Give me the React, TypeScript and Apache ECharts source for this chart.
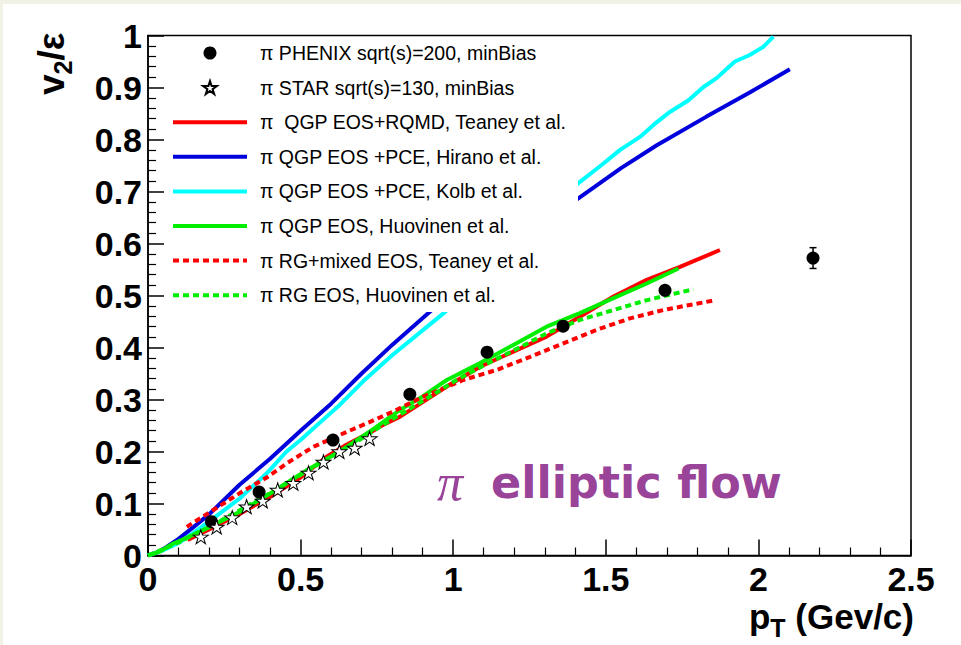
import React, { useEffect, useRef } from "react";
import * as echarts from "echarts";

// ---------- data ----------
const xTicks = [0, 0.5, 1, 1.5, 2, 2.5];
const yTicks = [0, 0.1, 0.2, 0.3, 0.4, 0.5, 0.6, 0.7, 0.8, 0.9, 1];

const phenixX = [0.208, 0.364, 0.606, 0.858, 1.111, 1.36, 1.694, 2.179];
const phenixY = [0.065, 0.122, 0.222, 0.31, 0.391, 0.441, 0.51, 0.572];
const phenixErr = [0, 0, 0, 0, 0, 0, 0, 0.02];

const starX = [0.173, 0.225, 0.276, 0.323, 0.376, 0.425, 0.476, 0.526, 0.575, 0.627, 0.677, 0.726];
const starY = [0.036, 0.055, 0.073, 0.094, 0.105, 0.126, 0.139, 0.159, 0.18, 0.2, 0.207, 0.225];

const redX = [0.13, 0.2, 0.3, 0.4, 0.5, 0.585, 0.65, 0.738, 0.76, 0.826, 0.9, 0.979, 1.088, 1.197, 1.306, 1.415, 1.525, 1.634, 1.743, 1.874];
const redY = [0.03, 0.05, 0.08, 0.113, 0.15, 0.19, 0.213, 0.24, 0.248, 0.267, 0.295, 0.325, 0.363, 0.392, 0.421, 0.459, 0.498, 0.53, 0.555, 0.5875];

const blueX = [0, 0.03, 0.06, 0.1, 0.15, 0.2, 0.3, 0.4, 0.5, 0.6, 0.7, 0.8, 0.93, 1.1, 1.25, 1.41, 1.55, 1.667, 1.83, 1.97, 2.103];
const blueY = [0, 0.006, 0.016, 0.032, 0.055, 0.079, 0.136, 0.186, 0.24, 0.292, 0.35, 0.405, 0.472, 0.55, 0.62, 0.687, 0.745, 0.789, 0.844, 0.89, 0.935];

const cyanX = [0, 0.05, 0.1, 0.15, 0.214, 0.301, 0.389, 0.454, 0.5, 0.564, 0.629, 0.705, 0.8, 0.973, 1.15, 1.3, 1.41, 1.48, 1.547, 1.612, 1.66, 1.71, 1.77, 1.82, 1.863, 1.923, 1.97, 2.016, 2.049];
const cyanY = [0, 0.01, 0.024, 0.044, 0.0715, 0.11, 0.158, 0.2, 0.222, 0.256, 0.29, 0.335, 0.385, 0.468, 0.57, 0.655, 0.716, 0.748, 0.78, 0.805, 0.83, 0.853, 0.875, 0.901, 0.918, 0.95, 0.962, 0.978, 0.998];

const greenX = [0, 0.04, 0.083, 0.13, 0.192, 0.301, 0.411, 0.52, 0.629, 0.738, 0.826, 0.9, 0.979, 1.088, 1.197, 1.306, 1.415, 1.525, 1.634, 1.738];
const greenY = [0, 0.008, 0.023, 0.035, 0.052, 0.084, 0.123, 0.164, 0.2, 0.243, 0.28, 0.306, 0.3375, 0.37, 0.405, 0.44, 0.466, 0.495, 0.523, 0.552];

const redDotX = [0.127, 0.214, 0.301, 0.389, 0.454, 0.542, 0.629, 0.716, 0.804, 0.9, 1.033, 1.143, 1.252, 1.361, 1.47, 1.579, 1.688, 1.858];
const redDotY = [0.055, 0.0875, 0.12, 0.15, 0.177, 0.209, 0.232, 0.254, 0.277, 0.305, 0.3375, 0.357, 0.382, 0.408, 0.434, 0.456, 0.472, 0.491];

const greenDotX = [0, 0.1, 0.2, 0.3, 0.4, 0.5, 0.6, 0.7, 0.8, 0.9, 1.011, 1.121, 1.2, 1.306, 1.415, 1.525, 1.634, 1.787];
const greenDotY = [0, 0.025, 0.055, 0.087, 0.12, 0.155, 0.19, 0.225, 0.262, 0.297, 0.3375, 0.372, 0.395, 0.427, 0.453, 0.472, 0.491, 0.512];

const legendNames = [
  "π PHENIX sqrt(s)=200, minBias",
  "π STAR sqrt(s)=130, minBias",
  "π  QGP EOS+RQMD, Teaney et al.",
  "π QGP EOS +PCE, Hirano et al.",
  "π QGP EOS +PCE, Kolb et al.",
  "π QGP EOS, Huovinen et al.",
  "π RG+mixed EOS, Teaney et al.",
  "π RG EOS, Huovinen et al.",
];

const zip = (xs: number[], ys: number[]) => xs.map((x, i) => [x, ys[i]]);

const STAR =
  "path://M100,0 L122.45,69.1 L195.1,69.1 L136.3,111.8 L158.8,180.9 L100,138.2 L41.2,180.9 L63.7,111.8 L4.9,69.1 L77.55,69.1 Z";

// legend icons: solid bar and dashed bar (74 x 4)
const SOLID_ICON = "path://M0,0 L74,0 L74,4 L0,4 Z";
const DASH_ICON =
  "path://" +
  [0, 10, 20, 30, 40, 50, 60, 70]
    .map((s) => {
      const e = Math.min(s + 6, 74);
      return `M${s},0 L${e},0 L${e},4 L${s},4 Z`;
    })
    .join(" ");

const FONT = "Liberation Sans";

function lineSeries(name: string, xs: number[], ys: number[], color: string, dotted = false) {
  return {
    name,
    type: "line",
    data: zip(xs, ys),
    symbol: "none",
    showSymbol: false,
    smooth: false,
    z: 2,
    lineStyle: { color, width: 4, type: dotted ? [6, 4] : "solid" },
    itemStyle: { color },
  };
}

let measureCtx: CanvasRenderingContext2D | null = null;
function textWidth(text: string, size: number) {
  if (!measureCtx) measureCtx = document.createElement("canvas").getContext("2d");
  measureCtx!.font = `bold ${size}px "${FONT}"`;
  return measureCtx!.measureText(text).width;
}

// text placed with its baseline at local y = baseline (Arial-like metrics, central baseline)
function boldText(text: string, size: number, x: number, baseline: number, align = "left") {
  return {
    type: "text",
    x,
    y: baseline - 0.3465 * size,
    style: { text, fontFamily: FONT, fontWeight: "bold", fontSize: size, fill: "#000", align, verticalAlign: "middle" },
  };
}

export default function App() {
  const ref = useRef<HTMLDivElement>(null);
  useEffect(() => {
    const chart = echarts.init(ref.current!, undefined, { renderer: "svg" });
    const axisCommon = {
      type: "value",
      axisLine: { show: true, onZero: false, lineStyle: { color: "#000", width: 1.5 } },
      axisTick: { show: true, inside: true, length: 16, lineStyle: { color: "#000", width: 1.5 } },
      minorTick: { show: true, splitNumber: 5, length: 8, lineStyle: { color: "#000", width: 1.2 } },
      splitLine: { show: false },
      minorSplitLine: { show: false },
    };

    // x-axis title: "p_T (Gev/c)" right-aligned
    const xMain = 35, xSub = 25, xRight = 911, xBase = 625;
    const wRest = textWidth(" (Gev/c)", xMain);
    const wT = textWidth("T", xSub);
    const xTitle = {
      type: "group",
      z: 5,
      children: [
        boldText(" (Gev/c)", xMain, xRight, xBase, "right"),
        boldText("T", xSub, xRight - wRest, xBase + 8, "right"),
        boldText("p", xMain, xRight - wRest - wT, xBase, "right"),
      ],
    };

    // y-axis title: "v_2/ε" rotated, reading bottom to top
    const yMain = 37, ySub = 25;
    const wv = textWidth("v", yMain);
    const w2 = textWidth("2", ySub);
    const yTitle = {
      type: "group",
      z: 5,
      x: 61,
      y: 91,
      rotation: Math.PI / 2,
      children: [
        boldText("v", yMain, 0, 0),
        boldText("2", ySub, wv, 8),
        boldText("/ε", yMain, wv + w2, 0),
      ],
    };

    const option: any = {
      animation: false,
      backgroundColor: "transparent",
      grid: { left: 145, right: 50, top: 31.5, bottom: 89.5, show: true, borderColor: "#000", borderWidth: 1.5 },
      xAxis: {
        ...axisCommon,
        min: xTicks[0],
        max: xTicks[xTicks.length - 1],
        interval: 0.5,
        axisLabel: {
          fontSize: 34, fontWeight: "bold", color: "#000", fontFamily: FONT, margin: 6,
          formatter: (v: number) => String(v),
        },
      },
      yAxis: {
        ...axisCommon,
        min: yTicks[0],
        max: yTicks[yTicks.length - 1],
        interval: 0.1,
        axisLabel: {
          fontSize: 34, fontWeight: "bold", color: "#000", fontFamily: FONT, margin: 6,
          formatter: (v: number) => String(Math.round(v * 10) / 10),
        },
      },
      legend: {
        data: legendNames.map((n, i) =>
          i < 2 ? { name: n } : { name: n, icon: i >= 6 ? DASH_ICON : SOLID_ICON }
        ),
        orient: "vertical",
        left: 170,
        top: 39,
        padding: 0,
        itemWidth: 74,
        itemHeight: 13,
        itemGap: 14.6,
        selectedMode: false,
        textStyle: { fontFamily: FONT, fontSize: 19.5, color: "#000", lineHeight: 20, padding: [0, 0, 0, 8] },
      },
      graphic: [
        { type: "rect", z: 3, shape: { x: 162, y: 33, width: 413, height: 275 }, style: { fill: "#fff" } },
        {
          type: "text", z: 5, x: 434, y: 478,
          style: { text: "π", fontFamily: "Liberation Serif", fontStyle: "italic", fontSize: 52, fill: "#994499", verticalAlign: "middle", align: "left" },
        },
        {
          type: "text", z: 5, x: 488, y: 478,
          style: { text: "elliptic flow", fontFamily: "DejaVu Sans", fontWeight: "bold", fontSize: 44.5, fill: "#994499", verticalAlign: "middle", align: "left" },
        },
        xTitle,
        yTitle,
      ],
      series: [
        lineSeries(legendNames[2], redX, redY, "#ff0000"),
        lineSeries(legendNames[3], blueX, blueY, "#0000dd"),
        lineSeries(legendNames[4], cyanX, cyanY, "#00ffff"),
        lineSeries(legendNames[5], greenX, greenY, "#00ee00"),
        lineSeries(legendNames[6], redDotX, redDotY, "#ff0000", true),
        lineSeries(legendNames[7], greenDotX, greenDotY, "#00ee00", true),
        {
          name: "errors",
          type: "custom",
          z: 5,
          data: phenixX.map((x, i) => [x, phenixY[i], phenixErr[i]]),
          renderItem: (params: any, api: any) => {
            const x = api.value(0), y = api.value(1), e = api.value(2);
            if (!e) return null;
            const t = api.coord([x, y + e]);
            const b = api.coord([x, y - e]);
            const st = { stroke: "#000", lineWidth: 1.5 };
            return {
              type: "group",
              children: [
                { type: "line", shape: { x1: t[0], y1: t[1], x2: b[0], y2: b[1] }, style: st },
                { type: "line", shape: { x1: t[0] - 3.5, y1: t[1], x2: t[0] + 3.5, y2: t[1] }, style: st },
                { type: "line", shape: { x1: b[0] - 3.5, y1: b[1], x2: b[0] + 3.5, y2: b[1] }, style: st },
              ],
            };
          },
        },
        {
          name: legendNames[0],
          type: "scatter",
          z: 6,
          data: zip(phenixX, phenixY),
          symbol: "circle",
          symbolSize: 13,
          itemStyle: { color: "#000", opacity: 1 },
        },
        {
          name: legendNames[1],
          type: "scatter",
          z: 6,
          data: zip(starX, starY),
          symbol: STAR,
          symbolSize: [15, 14],
          itemStyle: { color: "#fff", borderColor: "#000", borderWidth: 1, opacity: 1 },
        },
      ],
    };
    chart.setOption(option);
    return () => chart.dispose();
  }, []);
  return (
    <div style={{ position: "fixed", left: 0, top: 0, width: 961, height: 645, background: "#f1f1e6" }}>
      <div ref={ref} style={{ position: "absolute", left: 3, top: 4, width: 958, height: 641, background: "#fff" }} />
    </div>
  );
}
